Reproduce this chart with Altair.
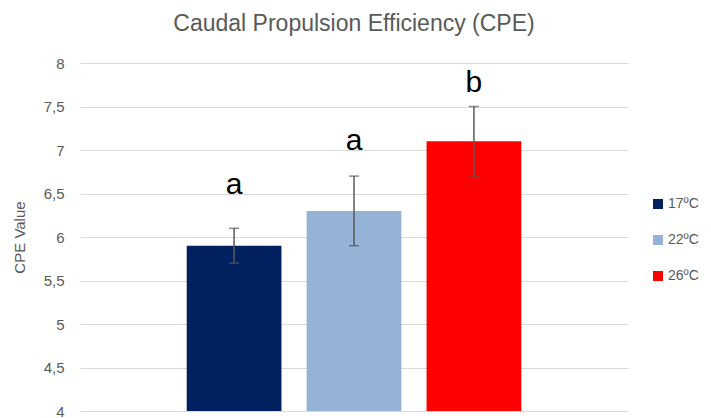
import altair as alt
import pandas as pd

groups = ["17ºC", "22ºC", "26ºC"]
cpe = [5.9, 6.3, 7.1]
err = [0.2, 0.4, 0.4]
letters = ["a", "a", "b"]
letter_pos = [6.5, 7.0, 7.67]
colors = ["#002060", "#95B3D7", "#FF0000"]

df = pd.DataFrame({
    "group": groups,
    "cpe": cpe,
    "lo": [v - e for v, e in zip(cpe, err)],
    "hi": [v + e for v, e in zip(cpe, err)],
    "letter": letters,
    "lpos": letter_pos,
})

xscale = alt.Scale(domain=groups, paddingInner=0.21, paddingOuter=0.89)
x = alt.X("group:N", scale=xscale, axis=None)
yscale = alt.Scale(domain=[4, 8], nice=False, zero=False)

base = alt.Chart(df)

bars = base.mark_bar().encode(
    x=x,
    y=alt.Y("cpe:Q", scale=yscale,
            axis=alt.Axis(values=[4, 4.5, 5, 5.5, 6, 6.5, 7, 7.5, 8],
                          labelExpr="replace(toString(datum.value), '.', ',')",
                          title="CPE Value", domain=False, ticks=False,
                          gridColor="#d9d9d9", gridWidth=1,
                          labelColor="#595959", labelFontSize=15,
                          labelFont="Liberation Sans", labelPadding=16,
                          titleColor="#595959", titleFontSize=15,
                          titleFont="Liberation Sans", titleFontWeight="normal",
                          titlePadding=16)),
    y2=alt.datum(4),
    color=alt.Color("group:N",
                    scale=alt.Scale(domain=groups, range=colors),
                    legend=alt.Legend(title=None, orient="none",
                                      legendX=571, legendY=134,
                                      symbolType="square", symbolSize=100,
                                      symbolStrokeWidth=0,
                                      labelFontSize=14, labelColor="#595959",
                                      labelFont="Liberation Sans",
                                      rowPadding=22, labelOffset=3)),
)

rules = base.mark_rule(color="#595959", strokeWidth=1.5).encode(
    x=x, y=alt.Y("lo:Q", scale=yscale), y2="hi:Q")
caps_lo = base.mark_tick(color="#595959", thickness=1.5, size=10,
                         orient="horizontal").encode(
    x=x, y=alt.Y("lo:Q", scale=yscale))
caps_hi = base.mark_tick(color="#595959", thickness=1.5, size=10,
                         orient="horizontal").encode(
    x=x, y=alt.Y("hi:Q", scale=yscale))
text = base.mark_text(fontSize=30, color="black", baseline="alphabetic",
                      font="Liberation Sans").encode(
    x=x, y=alt.Y("lpos:Q", scale=yscale), text="letter:N")

chart = alt.layer(bars, rules, caps_lo, caps_hi, text).properties(
    width=548, height=348,
    autosize=alt.AutoSizeParams(type="none"),
    padding={"left": 72, "top": 55, "right": 75, "bottom": 8},
    title=alt.TitleParams("Caudal Propulsion Efficiency (CPE)",
                          fontSize=23, font="Liberation Sans",
                          fontWeight="normal", color="#595959",
                          anchor="middle", offset=20),
).configure_view(stroke=None)

chart.save("out.html", embed_options={"renderer": "svg", "actions": False})
